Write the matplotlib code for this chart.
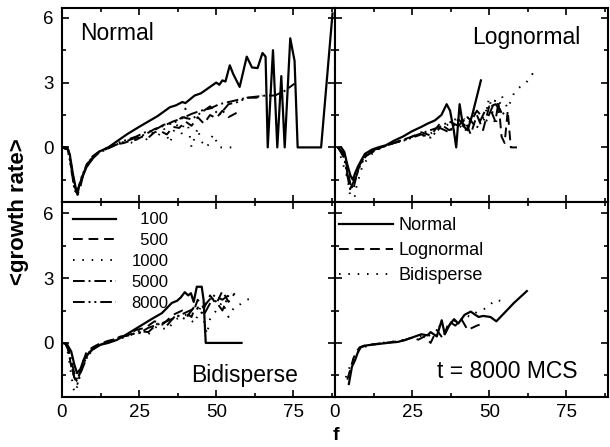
import matplotlib
matplotlib.use("Agg")
import matplotlib.pyplot as plt
from matplotlib.ticker import MultipleLocator

plt.rcParams['font.family'] = ['Liberation Sans', 'DejaVu Sans']

# ---- Normal distribution, several times (MCS) ----
n100_f = [0, 1.5, 2.5, 3.5, 4.5, 5, 6, 7, 8, 10, 12, 15, 18, 21, 25, 28, 31, 35, 37, 39, 40, 43, 45, 47, 48.5, 50,
          51, 52, 53, 54.4, 55.5, 57.6, 59.9, 61.6, 63.4, 65, 66, 66.7, 68.4, 69.8, 71.1, 72.2, 74, 75.4, 76.4, 84, 87.7]
n100_y = [0, 0, -0.3, -1.2, -1.9, -2.0, -1.6, -1.2, -0.9, -0.5, -0.2, 0.0, 0.3, 0.6, 0.95, 1.2, 1.45, 1.86, 1.95, 2.1,
          2.05, 2.4, 2.5, 2.7, 2.85, 3.0, 2.9, 3.1, 3.05, 3.8, 3.4, 2.8, 4.2, 3.7, 3.67, 4.37, 4.2, 0, 4.5, 0, 3.3, 0,
          5.05, 4.0, 0, 0, 6.2]
n500_f = [0, 2, 3, 4, 5, 6, 7, 8, 10, 12, 14, 16, 18, 20, 22, 24, 26, 28, 30, 32, 34, 36, 38, 40, 42, 44, 46, 48, 50,
          52, 54, 56.6]
n500_y = [0, -0.1, -0.8, -1.7, -2.2, -1.8, -1.2, -0.8, -0.4, -0.2, -0.1, 0.05, 0.15, 0.2, 0.3, 0.35, 0.5, 0.45, 0.7,
          0.75, 0.6, 0.95, 0.9, 1.2, 1.0, 1.4, 1.1, 1.5, 1.35, 1.7, 1.4, 1.6]
n1000_f = [0, 2, 3, 4, 5, 6, 7, 9, 11, 13, 15, 17, 19, 21, 23, 25, 27, 29, 31, 33, 35, 37, 39, 40, 42, 44, 45, 47, 49,
           51, 53, 55]
n1000_y = [0, -0.2, -1.0, -1.9, -2.3, -1.7, -1.1, -0.6, -0.3, -0.15, 0.0, 0.1, 0.15, 0.3, 0.2, 0.45, 0.3, 0.7, 0.5,
           0.9, 0.2, 1.1, 0.6, 1.8, 0, 0.9, 0.3, 0, 0.6, 0, 0, 0]
n5000_f = [0, 2, 3, 4, 5, 6, 8, 10, 12, 15, 18, 21, 24, 27, 30, 33, 36, 39, 42, 45, 48, 51, 54, 57, 60, 63, 66, 69,
           72, 75.4]
n5000_y = [0, -0.1, -0.9, -1.8, -2.1, -1.6, -0.9, -0.5, -0.25, -0.05, 0.15, 0.3, 0.45, 0.6, 0.85, 1.0, 1.2, 1.35,
           1.55, 1.7, 1.8, 2.0, 2.1, 2.2, 2.3, 2.35, 2.4, 2.4, 2.6, 2.95]
n8000_f = [0, 2, 3, 4, 5, 6, 8, 10, 12, 15, 18, 21, 24, 27, 30, 33, 36, 39, 42, 45, 48, 51, 54, 57, 60, 63, 65]
n8000_y = [0, -0.1, -1.0, -1.9, -2.2, -1.5, -0.8, -0.45, -0.2, 0.0, 0.2, 0.35, 0.5, 0.7, 0.8, 1.05, 1.1, 1.4, 1.3,
           1.6, 1.9, 1.5, 2.0, 2.1, 2.3, 2.3, 2.4]

# ---- Lognormal ----
l100_f = [2, 3, 4, 5, 5.8, 6.5, 7.4, 8.5, 9.7, 12, 14, 16.5, 19, 22, 25, 28, 30, 32.4, 34.5, 36.2, 37.3, 38.5, 39.3,
          40.4, 41.5, 43, 44.5, 47.3]
l100_y = [0, -0.2, -0.8, -1.3, -1.5, -1.2, -0.9, -0.6, -0.3, -0.1, 0.0, 0.1, 0.3, 0.5, 0.75, 0.95, 1.1, 1.25, 1.5,
          2.0, 1.7, 0.8, 0, 2.0, 1.0, 0.8, 1.5, 3.1]
l500_f = [1, 3, 4, 5, 6, 7, 8, 10, 13, 16, 19, 22, 25, 28, 31, 34, 37, 40, 42, 44, 46, 48, 50, 52, 53, 54, 55, 56,
          57, 59]
l500_y = [0, -0.3, -1.0, -1.7, -1.9, -1.3, -0.8, -0.4, -0.1, 0.05, 0.2, 0.35, 0.5, 0.7, 0.55, 1.1, 0.8, 1.0, 1.3,
          0.6, 1.5, 0.8, 1.9, 1.2, 2.1, 0.5, 0.2, 1.7, 0, 0]
l1000_f = [1, 2, 4, 5, 6, 7, 9, 12, 15, 18, 21, 24, 27, 30, 33, 36, 39, 42, 45, 48, 50, 52, 54, 56, 58, 60, 62, 64, 65]
l1000_y = [0, -0.5, -1.4, -2.3, -2.6, -1.8, -0.8, -0.3, 0.0, 0.15, 0.3, 0.4, 0.6, 0.5, 0.9, 1.0, 1.3, 0.7, 1.6, 1.1,
           2.3, 1.0, 2.4, 1.8, 2.5, 2.8, 3.0, 3.4, 3.1]
l5000_f = [1, 3, 4, 5, 6, 8, 10, 13, 16, 19, 22, 25, 28, 31, 34, 37, 40, 43, 46, 49, 52, 55]
l5000_y = [0, -0.4, -1.2, -1.9, -1.6, -0.8, -0.35, -0.1, 0.05, 0.2, 0.35, 0.5, 0.65, 0.8, 0.95, 1.2, 1.0, 1.4, 0.9,
           1.8, 2.0, 1.5]
l8000_f = [1, 3, 4, 5, 6, 8, 10, 13, 16, 19, 22, 25, 28, 31, 34, 37, 40, 43, 46, 49, 52, 54]
l8000_y = [0, -0.5, -1.3, -2.0, -1.7, -0.9, -0.4, -0.15, 0.05, 0.2, 0.3, 0.45, 0.6, 0.45, 0.9, 0.7, 1.3, 0.9, 1.7,
           1.2, 2.2, 1.6]

# ---- Bidisperse ----
b100_f = [0, 1.6, 3, 4, 4.9, 6, 7, 8.8, 10, 12, 15, 17.8, 21, 25, 29, 32.4, 35.6, 37.3, 38.5, 39.8, 40.9, 41.8, 42.7,
          43.7, 45.3, 45.9, 46.6, 50, 55, 58.2]
b100_y = [0, -0.05, -0.4, -1.0, -1.4, -1.2, -0.8, -0.45, -0.3, -0.1, 0.0, 0.14, 0.4, 0.75, 1.1, 1.38, 1.85, 1.95,
          2.1, 2.35, 2.2, 2.3, 1.9, 2.6, 2.6, 2.0, 0, 0, 0, 0]
b500_f = [1, 2, 3, 4, 5, 6, 7, 8, 10, 12, 15, 18, 21, 24, 27, 30, 33, 36, 39, 42, 44, 46, 48, 50, 52, 54, 56]
b500_y = [0, -0.3, -1.1, -1.6, -1.8, -1.3, -0.8, -0.4, -0.2, -0.05, 0.1, 0.2, 0.35, 0.6, 0.7, 1.0, 0.9, 1.3, 1.5,
          1.2, 2.0, 1.6, 2.2, 1.8, 2.4, 1.9, 2.3]
b1000_f = [1, 2, 3, 4, 5, 6, 8, 10, 13, 16, 19, 22, 25, 28, 31, 34, 37, 40, 43, 45, 47, 48, 50, 52, 54, 56, 58, 60,
           62]
b1000_y = [0, -0.5, -1.5, -2.3, -2.0, -1.4, -0.6, -0.2, 0.0, 0.1, 0.2, 0.35, 0.5, 0.4, 0.8, 0.6, 1.1, 1.3, 0.9, 1.7,
           0.4, 1.1, 1.5, 1.9, 1.2, 1.7, 1.8, 2.0, 2.1]
b5000_f = [1, 2, 3, 4, 5, 6, 8, 10, 13, 16, 19, 22, 25, 28, 31, 34, 37, 40, 43, 46, 49, 52, 55]
b5000_y = [0, -0.2, -0.8, -1.4, -1.7, -1.3, -0.6, -0.25, -0.05, 0.1, 0.25, 0.4, 0.45, 0.7, 0.85, 1.0, 1.2, 1.4, 1.6,
           1.7, 2.2, 2.0, 2.3]
b8000_f = [1, 2, 3, 4, 5, 6, 8, 10, 13, 16, 19, 22, 25, 28, 31, 34, 37, 40, 43, 46, 49, 52, 54]
b8000_y = [0, -0.3, -1.0, -1.6, -1.9, -1.4, -0.7, -0.3, -0.05, 0.1, 0.3, 0.35, 0.55, 0.5, 0.9, 0.8, 1.3, 1.1, 1.7,
           1.3, 2.1, 1.5, 2.2]

# ---- t = 8000 MCS comparison ----
tn_f = [4.5, 5.5, 6.5, 7.5, 8.4, 10, 11, 14, 17, 20.5, 23, 26, 28, 30, 31, 33, 34.6, 35.6, 37, 38.6, 40, 42, 44,
        45.5, 46.6, 48, 50.4, 52.3, 55, 58, 62.2]
tn_y = [-1.9, -1.1, -0.8, -0.4, -0.2, -0.12, -0.1, -0.05, 0.0, 0.05, 0.15, 0.3, 0.4, 0.35, 0.5, 0.3, 1.05, 0.4, 0.8,
        1.1, 0.9, 1.3, 1.45, 1.3, 1.2, 1.25, 1.2, 1.0, 1.4, 1.85, 2.4]
tl_f = [4, 5, 6, 7, 8, 10, 13, 16, 19, 22, 25, 27, 29, 31, 33, 35, 37, 39, 41, 43, 46, 48]
tl_y = [-1.7, -1.2, -0.7, -0.4, -0.2, -0.1, -0.05, 0.0, 0.05, 0.1, 0.25, 0.15, 0.3, 0.0, 0.6, 0.2, 1.0, 0.8, 1.1,
        0.6, 0.8, 0.9]
tb_f = [3.5, 4.5, 5.5, 7, 9, 12, 15, 18, 21, 24, 27, 30, 32, 34, 36, 38, 40, 42, 44, 46.5, 49, 52, 55]
tb_y = [-1.6, -1.2, -0.9, -0.5, -0.2, -0.1, 0.0, 0.05, 0.1, 0.2, 0.3, 0.4, 0.2, 0.8, 0.5, 1.1, 0.9, 1.3, 1.2, 1.5,
        1.6, 2.0, 1.9]

times = ["\u2007100", "\u2007500", "1000", "5000", "8000"]
styles = [None, (5, 3), (0.8, 4), (6, 2, 1, 2), (6, 2, 1, 2, 1, 2)]

fig, axs = plt.subplots(2, 2, figsize=(6.1, 4.47), dpi=100, sharex=True)
plt.subplots_adjust(left=0.1016, right=0.9967, top=0.982, bottom=0.112, hspace=0, wspace=0)


def draw(ax, fs, ys, labels):
    for i in range(len(fs)):
        if styles[i] is None:
            ax.plot(fs[i], ys[i], color='black', lw=1.6, label=labels[i])
        else:
            ax.plot(fs[i], ys[i], color='black', lw=1.4, dashes=styles[i], label=labels[i])


draw(axs[0, 0], [n100_f, n500_f, n1000_f, n5000_f, n8000_f], [n100_y, n500_y, n1000_y, n5000_y, n8000_y], times)
draw(axs[0, 1], [l100_f, l500_f, l1000_f, l5000_f, l8000_f], [l100_y, l500_y, l1000_y, l5000_y, l8000_y], times)
draw(axs[1, 0], [b100_f, b500_f, b1000_f, b5000_f, b8000_f], [b100_y, b500_y, b1000_y, b5000_y, b8000_y], times)
draw(axs[1, 1], [tn_f, tl_f, tb_f], [tn_y, tl_y, tb_y], ["Normal", "Lognormal", "Bidisperse"])

for r in range(2):
    for c in range(2):
        ax = axs[r, c]
        ax.set_xlim(0, 88.5)
        ax.set_ylim(-2.55 if r == 0 else -2.5, 6.45 if r == 0 else 6.5)
        ax.xaxis.set_major_locator(MultipleLocator(25))
        ax.xaxis.set_minor_locator(MultipleLocator(12.5))
        ax.yaxis.set_major_locator(MultipleLocator(3))
        ax.yaxis.set_minor_locator(MultipleLocator(1.5))
        ax.tick_params(which='both', direction='in', top=True, right=True, labelsize=13.5, width=1.2)
        ax.tick_params(which='major', length=5)
        ax.tick_params(which='minor', length=3)
        ax.tick_params(axis='x', pad=5)
        ax.tick_params(axis='y', pad=6)
        for s in ax.spines.values():
            s.set_linewidth(1.5)
        if c == 1:
            ax.tick_params(labelleft=False)

axs[0, 0].text(0.2, 0.87, "Normal", transform=axs[0, 0].transAxes, fontsize=16.5, ha='center', va='center')
axs[0, 1].text(0.70, 0.85, "Lognormal", transform=axs[0, 1].transAxes, fontsize=16.5, ha='center', va='center')
axs[1, 0].text(0.67, 0.11, "Bidisperse", transform=axs[1, 0].transAxes, fontsize=16.5, ha='center', va='center')
axs[1, 1].text(0.63, 0.13, "t = 8000 MCS", transform=axs[1, 1].transAxes, fontsize=16.5, ha='center', va='center')

axs[1, 0].legend(loc='upper left', bbox_to_anchor=(0.022, 0.975), frameon=False, fontsize=12, handlelength=2.6,
                 labelspacing=0.35, borderaxespad=0.1, handletextpad=0.9, borderpad=0.2)
axs[1, 1].legend(loc='upper left', bbox_to_anchor=(0.0, 0.944), frameon=False, fontsize=13, handlelength=3.0,
                 labelspacing=0.45, borderaxespad=0.1, handletextpad=0.3, borderpad=0.1)

fig.text(0.031, 0.526, "<growth rate>", rotation=90, fontsize=16, fontweight='bold', ha='center', va='center')
fig.text(0.551, 0.025, "f", fontsize=14, fontweight='bold', ha='center', va='center')

fig.savefig("out.png", dpi=100)
